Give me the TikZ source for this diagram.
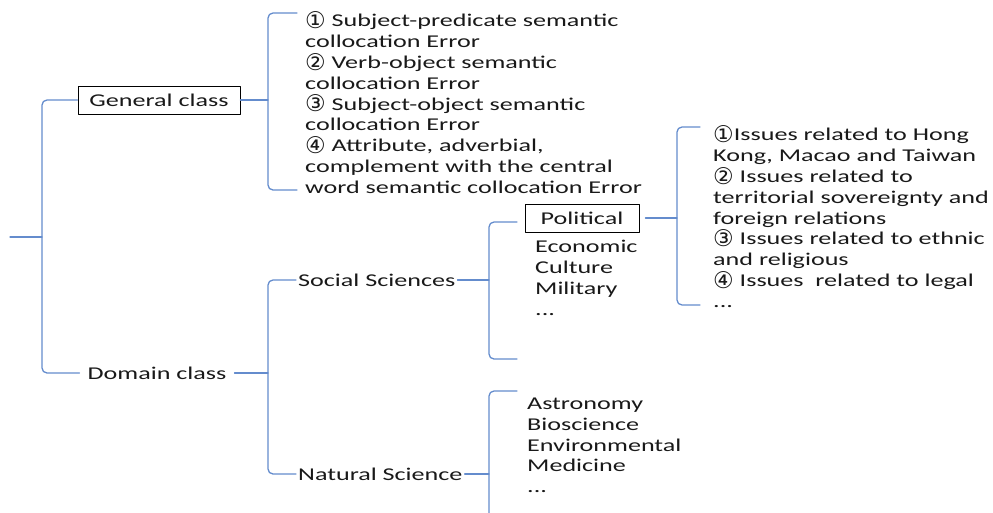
\documentclass[tikz,border=0pt]{standalone}
\usepackage{fontspec}
\setmainfont{Carlito}[FakeStretch=1.45]
\newfontfamily\circfont{DejaVu Sans}
\usetikzlibrary{positioning}
\definecolor{bracecol}{RGB}{100,140,205}
\newcommand{\cn}[1]{\smash{\raisebox{-1.5pt}{\circfont\fontsize{23}{20.8}\selectfont #1}}}

\begin{document}
\begin{tikzpicture}[x=1pt,y=-1pt,
	line join=round, line cap=round,
	every node/.style={inner sep=2pt, font=\fontsize{18}{20.8}\selectfont, text=black!90},
	box/.style={draw=black, line width=0.9pt, minimum height=28pt},
	items/.style={anchor=west, align=left, inner sep=0pt},
	brace/.style={draw=bracecol, line width=1.3pt, rounded corners=5pt}
	]
	\clip (0,0) rectangle (993,512);
	% class nodes
	\node[box, minimum width=162pt] (gen) at (159,100) {General class};
	\node[inner xsep=8pt] (dom) at (157,373) {Domain class};
	\node[anchor=west] (soc) at (296,280) {Social Sciences};
	\node[anchor=west] (nat) at (296,474) {Natural Science};
	\node[box, minimum width=114pt] (pol) at (582,218) {Political};
	% item lists
	\node[items] (err) at (305,106) {\strut\cn{①} Subject-predicate semantic\\
		collocation Error\\
		\cn{②} Verb-object semantic\\
		collocation Error\\
		\cn{③} Subject-object semantic\\
		collocation Error\\
		\cn{④} Attribute, adverbial,\\
		complement with the central\\
		word semantic collocation Error\strut};
	\node[items] (soclist) at (535,280) {\strut Economic\\ Culture\\ Military\\ ...\strut};
	\node[items] (pollist) at (713,220) {\strut\cn{①}Issues related to Hong\\
		Kong, Macao and Taiwan\\
		\cn{②} Issues related to\\
		territorial sovereignty and\\
		foreign relations\\
		\cn{③} Issues related to ethnic\\
		and religious\\
		\cn{④} Issues~ related to legal\\
		...\strut};
	\node[items] (natlist) at (527,447) {\strut Astronomy\\ Bioscience\\ Environmental\\ Medicine\\ ...\strut};
	% free ends and spines
	\coordinate (root) at (10,237);
	\coordinate (errtop) at (297,13);
	\coordinate (errbot) at (297,190);
	\coordinate (soctop) at (517,222);
	\coordinate (socbot) at (517,359);
	\coordinate (poltop) at (700,127);
	\coordinate (polbot) at (700,305);
	\coordinate (nattop) at (517,391);
	\coordinate (natbot) at (517,563);
	\coordinate (s1) at (42,0);
	\coordinate (s2) at (268,0);
	\coordinate (s4) at (489,0);
	\coordinate (s5) at (677,0);
	% braces
	\draw[brace] (gen.west) -- (gen.west -| s1) -- (dom.west -| s1) -- (dom.west);
	\draw[brace] (root) -- (root -| s1);
	\draw[brace] (errtop) -- (errtop -| s2) -- (errbot -| s2) -- (errbot);
	\draw[brace] (gen.east) -- (gen.east -| s2);
	\draw[brace] (soc.west) -- (soc.west -| s2) -- (nat.west -| s2) -- (nat.west);
	\draw[brace] (dom.east) -- (dom.east -| s2);
	\draw[brace] (soctop) -- (soctop -| s4) -- (socbot -| s4) -- (socbot);
	\draw[brace] (soc.east) -- (soc.east -| s4);
	\draw[brace] (poltop) -- (poltop -| s5) -- (polbot -| s5) -- (polbot);
	\draw[brace] ([xshift=6pt]pol.east) -- (pol.east -| s5);
	\draw[brace] (nattop) -- (nattop -| s4) -- (natbot -| s4) -- (natbot);
	\draw[brace] (nat.east) -- (nat.east -| s4);
\end{tikzpicture}
\end{document}
